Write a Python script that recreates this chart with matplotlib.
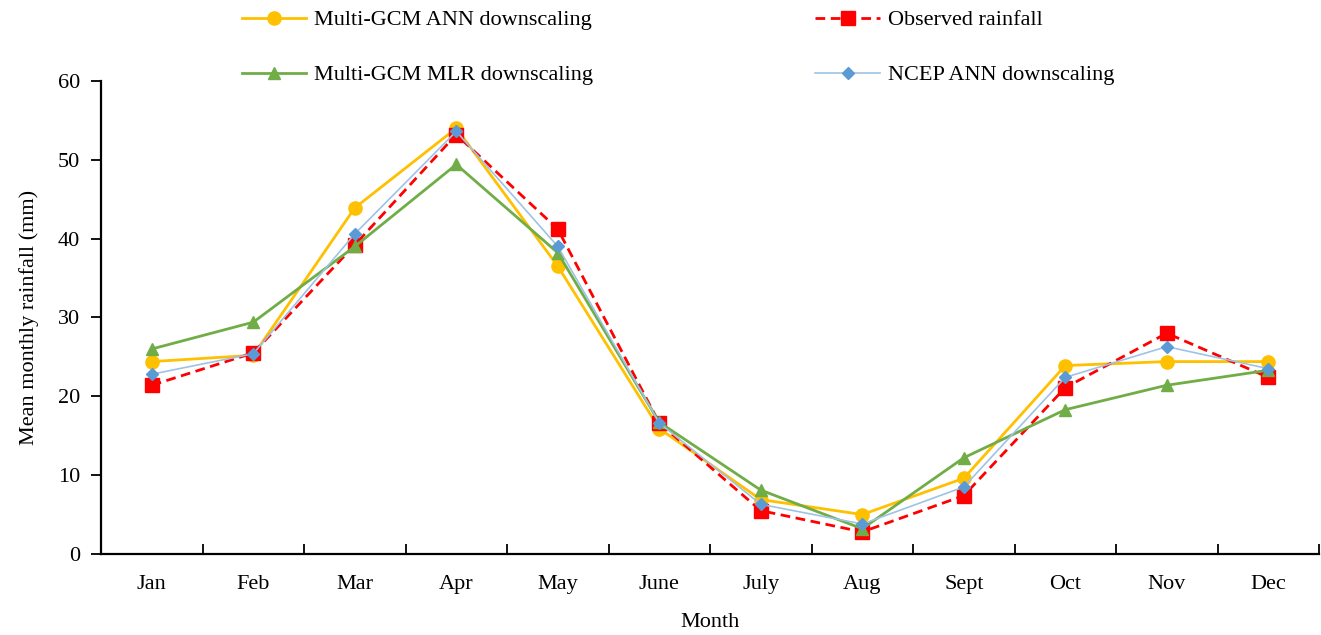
import matplotlib.pyplot as plt
import numpy as np
from matplotlib.ticker import FixedLocator, NullFormatter

plt.rcParams['font.family'] = ['Liberation Serif', 'DejaVu Serif']

months = ["Jan", "Feb", "Mar", "Apr", "May", "June", "July", "Aug", "Sept", "Oct", "Nov", "Dec"]
ann_gcm = [24.4, 25.2, 43.9, 54.0, 36.5, 15.9, 6.9, 5.0, 9.6, 23.9, 24.4, 24.4]
observed = [21.4, 25.5, 39.2, 53.2, 41.2, 16.6, 5.5, 2.8, 7.4, 21.1, 28.0, 22.4]
mlr_gcm = [26.0, 29.4, 39.0, 49.4, 38.2, 16.7, 8.1, 3.2, 12.2, 18.3, 21.4, 23.3]
ncep_ann = [22.8, 25.4, 40.6, 53.6, 39.0, 16.6, 6.3, 3.8, 8.5, 22.4, 26.3, 23.5]

fig = plt.figure(figsize=(13.21, 6.35), dpi=100)
ax = fig.add_axes([0.0765, 0.1276, 0.922, 0.745])

xs = np.arange(len(months))
h1, = ax.plot(xs, ann_gcm, "-o", color="#FFC000", linewidth=2.0, markersize=9.5, label="Multi-GCM ANN downscaling")
h2, = ax.plot(xs, observed, "--s", color="#FF0000", linewidth=2.0, markersize=9.5, dashes=(3.5, 2),
              label="Observed rainfall")
h3, = ax.plot(xs, mlr_gcm, "-^", color="#70AD47", linewidth=2.0, markersize=9, label="Multi-GCM MLR downscaling")
h4, = ax.plot(xs, ncep_ann, "-D", color="#9DC3E6", linewidth=1.2, markersize=6.5, markerfacecolor="#5B9BD5",
              markeredgecolor="#5B9BD5", label="NCEP ANN downscaling")

ax.set_xlim(-0.5, len(months) - 0.5)
ax.set_ylim(0, 60)
ax.set_yticks(range(0, 61, 10))
ax.set_xticks(xs)
ax.set_xticklabels(months)
ax.xaxis.set_minor_locator(FixedLocator(np.arange(-0.5, len(months), 1.0)))
ax.xaxis.set_minor_formatter(NullFormatter())
ax.tick_params(axis="x", which="major", length=0, pad=15, labelsize=16)
ax.tick_params(axis="x", which="minor", direction="in", length=7, width=1.3)
ax.tick_params(axis="y", direction="out", length=7, width=1.3, labelsize=16, pad=8)

for side in ["top", "right"]:
    ax.spines[side].set_visible(False)
for side in ["left", "bottom"]:
    ax.spines[side].set_linewidth(1.6)

ax.set_xlabel("Month", fontsize=16, labelpad=14)
ax.set_ylabel("Mean monthly rainfall (mm)", fontsize=16, labelpad=14)

fig.legend(handles=[h1, h3, h2, h4], ncol=2, loc="upper left", bbox_to_anchor=(0.168, 1.016),
           frameon=False, fontsize=16, handlelength=2.9, handletextpad=0.35,
           columnspacing=10.0, labelspacing=1.55)

fig.savefig("out.png", dpi=100)
